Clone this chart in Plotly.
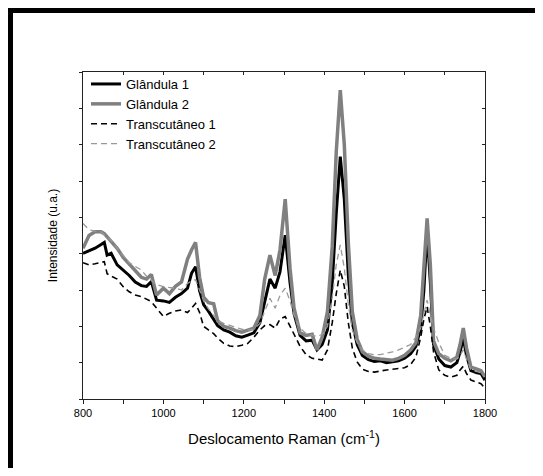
import plotly.graph_objects as go

# Raman shift grid (cm^-1)
wavenumber = [800, 815, 830, 845, 853, 860, 870, 885, 900, 915, 930, 945, 958, 970, 983,
              1000, 1015, 1030, 1045, 1060, 1070, 1080, 1090, 1100, 1112, 1125, 1135, 1150,
              1165, 1180, 1195, 1210, 1225, 1240, 1252, 1265, 1278, 1290, 1303, 1315, 1325,
              1340, 1355, 1370, 1382, 1395, 1408, 1420, 1430, 1440, 1450, 1460, 1470, 1482,
              1495, 1510, 1525, 1540, 1555, 1570, 1585, 1600, 1615, 1628, 1640, 1648, 1656,
              1664, 1672, 1685, 1700, 1715, 1730, 1738, 1746, 1754, 1765, 1780, 1790, 1800]

glandula_1 = [4.01, 4.08, 4.15, 4.25, 4.31, 3.96, 4.01, 3.69, 3.55, 3.40, 3.22, 3.12, 3.10, 3.23, 2.72,
              2.70, 2.66, 2.80, 2.90, 3.05, 3.46, 3.64, 2.98, 2.60, 2.42, 2.20, 2.02, 1.90,
              1.84, 1.74, 1.70, 1.76, 1.82, 2.10, 2.70, 3.30, 3.05, 3.50, 4.51, 3.20, 2.35,
              1.75, 1.60, 1.62, 1.35, 1.50, 1.90, 3.20, 5.10, 6.67, 5.50, 3.40, 2.10, 1.50,
              1.20, 1.08, 1.03, 1.05, 1.00, 1.03, 1.05, 1.12, 1.25, 1.45, 1.95, 3.00, 4.65,
              3.20, 1.50, 1.10, 0.92, 0.88, 1.00, 1.30, 1.67, 1.20, 0.78, 0.72, 0.70, 0.52]

glandula_2 = [4.15, 4.50, 4.60, 4.60, 4.55, 4.47, 4.35, 4.15, 3.90, 3.72, 3.55, 3.35, 3.30, 3.43, 2.86,
              3.05, 2.90, 3.10, 3.22, 3.85, 4.10, 4.31, 3.35, 2.80, 2.65, 2.62, 2.15, 2.00,
              1.95, 1.88, 1.84, 1.90, 1.95, 2.30, 3.30, 3.96, 3.40, 4.10, 5.50, 3.60, 2.50,
              1.82, 1.75, 1.78, 1.35, 1.70, 2.40, 4.20, 6.80, 8.50, 7.00, 4.30, 2.40, 1.65,
              1.30, 1.18, 1.12, 1.10, 1.08, 1.07, 1.12, 1.20, 1.35, 1.55, 2.30, 3.70, 4.97,
              3.70, 1.60, 1.25, 1.12, 1.05, 1.15, 1.50, 1.95, 1.40, 0.88, 0.82, 0.78, 0.61]

transcutaneo_1 = [3.75, 3.69, 3.72, 3.76, 3.78, 3.45, 3.38, 3.30, 3.09, 2.95, 2.86, 2.82, 2.75, 2.68, 2.50,
                  2.27, 2.36, 2.42, 2.45, 2.38, 2.50, 2.63, 2.38, 2.00, 1.90, 1.80, 1.68, 1.53,
                  1.46, 1.44, 1.48, 1.53, 1.70, 1.90, 2.02, 2.05, 1.95, 2.20, 2.27, 2.00, 1.80,
                  1.45, 1.22, 1.12, 1.10, 1.07, 1.35, 2.10, 2.90, 3.55, 3.10, 2.10, 1.40, 1.02,
                  0.82, 0.76, 0.74, 0.78, 0.80, 0.82, 0.84, 0.86, 0.95, 1.15, 1.70, 2.20, 2.54,
                  2.00, 1.30, 0.80, 0.65, 0.60, 0.65, 0.80, 0.90, 0.70, 0.52, 0.45, 0.42, 0.30]

transcutaneo_2 = [4.83, 4.66, 4.62, 4.60, 4.52, 4.45, 4.36, 4.15, 3.95, 3.75, 3.65, 3.55, 3.38, 3.28, 3.15,
                  3.09, 3.08, 3.05, 3.00, 3.18, 3.25, 3.28, 3.00, 2.70, 2.48, 2.30, 2.15, 2.08,
                  2.02, 1.98, 1.92, 1.90, 1.92, 2.08, 2.40, 2.77, 2.50, 2.85, 3.05, 2.70, 2.30,
                  1.95, 1.80, 1.75, 1.72, 1.78, 2.00, 2.80, 3.70, 4.24, 3.60, 2.60, 1.90, 1.55,
                  1.35, 1.25, 1.22, 1.22, 1.25, 1.30, 1.35, 1.42, 1.50, 1.70, 1.95, 2.35, 2.72,
                  2.30, 1.95, 1.55, 1.20, 1.12, 1.10, 1.20, 1.35, 1.10, 0.80, 0.75, 0.72, 0.61]

series_names = ["Glândula 1", "Glândula 2", "Transcutâneo 1", "Transcutâneo 2"]
x_tick_vals = [800, 1000, 1200, 1400, 1600, 1800]
x_tick_text = ["800", "1000", "1200", "1400", "1600", "1800"]

# figure fits inside the page's 8px body margin
W, H = 535, 460
ML, MR, MT, MB = 75, 58, 64, 69
PW, PH = W - ML - MR, H - MT - MB

fig = go.Figure()
styles = [
    (glandula_1, dict(color="#000000", width=3, dash="solid")),
    (glandula_2, dict(color="#808080", width=3.5, dash="solid")),
    (transcutaneo_1, dict(color="#000000", width=1.6, dash="6px,4px")),
    (transcutaneo_2, dict(color="#999999", width=1.3, dash="6px,4px")),
]
for name, (vals, line) in zip(series_names, styles):
    fig.add_trace(go.Scatter(x=wavenumber, y=vals, mode="lines", name=name, line=line))

# invisible trace on secondary axes (inward ticks on top/right)
fig.add_trace(go.Scatter(x=[800], y=[0], xaxis="x2", yaxis="y2", mode="markers",
                         marker=dict(opacity=0), showlegend=False, hoverinfo="skip"))

def px_x(p):
    return (p - ML) / PW

def px_y(p):
    return (H - MB - p) / PH

shapes = [
    dict(type="rect", xref="paper", yref="paper", x0=px_x(0), x1=px_x(5), y0=px_y(H + 5), y1=px_y(-2),
         fillcolor="black", line=dict(width=0), layer="above"),
    dict(type="rect", xref="paper", yref="paper", x0=px_x(-2), x1=px_x(W + 5), y0=px_y(5), y1=px_y(-2),
         fillcolor="black", line=dict(width=0), layer="above"),
    dict(type="rect", xref="paper", yref="paper", x0=px_x(533.5), x1=px_x(W + 5), y0=px_y(H + 5), y1=px_y(-2),
         fillcolor="black", line=dict(width=0), layer="above"),
]

font_family = "Liberation Sans, Arial, sans-serif"
axis_col = "#222222"
fig.update_layout(
    width=W, height=H,
    margin=dict(l=ML, r=MR, t=MT, b=MB),
    paper_bgcolor="white", plot_bgcolor="white",
    font=dict(family=font_family, color="black", size=11),
    showlegend=True,
    legend=dict(x=px_x(ML + 3), y=px_y(MT - 3), xanchor="left", yanchor="top", bgcolor="rgba(0,0,0,0)",
                font=dict(size=13, family=font_family), itemwidth=30),
    shapes=shapes,
    xaxis=dict(range=[800, 1800], tickvals=x_tick_vals, ticktext=x_tick_text,
               showgrid=False, zeroline=False, showline=True, linecolor=axis_col, linewidth=1,
               ticks="outside", ticklen=4, tickcolor=axis_col,
               minor=dict(dtick=100, ticks="outside", ticklen=4, tickcolor=axis_col, showgrid=False),
               tickfont=dict(size=11),
               title=dict(text="Deslocamento Raman (cm<sup>-1</sup>)", font=dict(size=15), standoff=15)),
    yaxis=dict(range=[0, 9], dtick=1, showticklabels=False, showgrid=False, zeroline=False,
               showline=True, linecolor=axis_col, linewidth=1,
               ticks="outside", ticklen=3, tickcolor=axis_col,
               title=dict(text="Intensidade (u.a.)", font=dict(size=12), standoff=18)),
    xaxis2=dict(range=[800, 1800], overlaying="x", side="top", dtick=100, showticklabels=False,
                showgrid=False, zeroline=False, showline=True, linecolor=axis_col, linewidth=1,
                ticks="inside", ticklen=3, tickcolor=axis_col),
    yaxis2=dict(range=[0, 9], overlaying="y", side="right", dtick=1, showticklabels=False,
                showgrid=False, zeroline=False, showline=True, linecolor=axis_col, linewidth=1,
                ticks="inside", ticklen=3, tickcolor=axis_col),
)

fig.write_html("out.html")
